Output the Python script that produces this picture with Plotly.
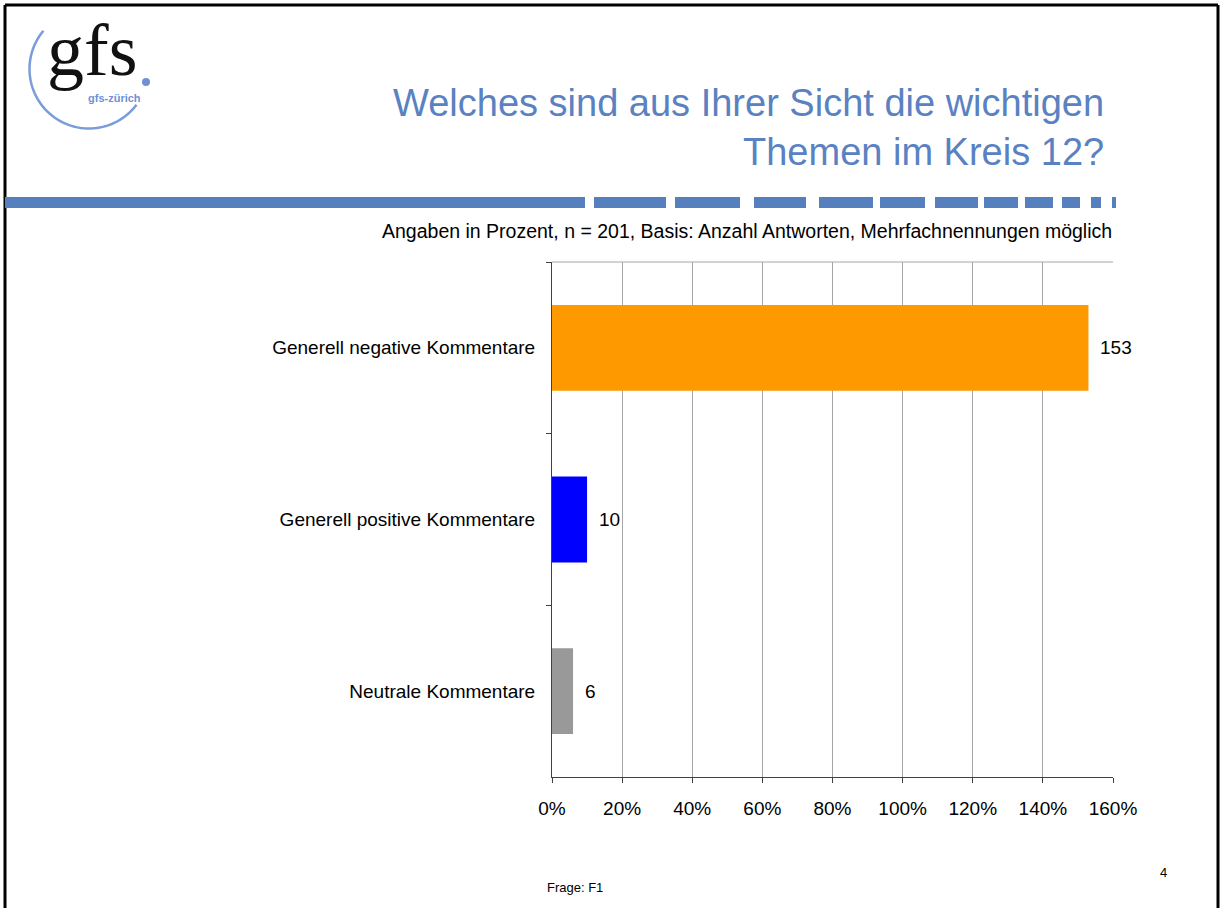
import math
import plotly.graph_objects as go

# data
categories = ["Generell negative Kommentare", "Generell positive Kommentare", "Neutrale Kommentare"]
values = [153, 10, 6]
bar_colors = ["#FF9900", "#0000FF", "#999999"]
x_ticks = [0, 20, 40, 60, 80, 100, 120, 140, 160]
x_tick_labels = ["0%", "20%", "40%", "60%", "80%", "100%", "120%", "140%", "160%"]

title_lines = ["Welches sind aus Ihrer Sicht die wichtigen", "Themen im Kreis 12?"]
subtitle = "Angaben in Prozent, n = 201, Basis: Anzahl Antworten, Mehrfachnennungen möglich"

W, H = 1222, 908
L, R, T, B = 552, 1113, 262, 777   # plot area in pixels

def px(x):
    return (x - L) / (R - L)

def py(y):
    return (B - y) / (B - T)

FONT = "Liberation Sans, Arial, sans-serif"
BLUE = "#5680BD"

fig = go.Figure(go.Bar(
    x=values, y=categories, orientation="h",
    marker=dict(color=bar_colors, line=dict(width=0)),
    hoverinfo="skip",
))

shapes = []
annotations = []

# value labels next to bars
for c, v in zip(categories, values):
    annotations.append(dict(x=v, y=c, xref="x", yref="y", text=str(v), showarrow=False,
                            xanchor="left", xshift=10, font=dict(size=19, color="#000000")))

# top border of plot area
shapes.append(dict(type="line", xref="paper", yref="paper", x0=0, x1=1, y0=1, y1=1,
                   line=dict(color="#A6A6A6", width=1)))

# page frame
for x0, y0, x1, y1 in [(5, 5, 5, 920), (5, 5, 1218, 5), (1218, 5, 1218, 920)]:
    shapes.append(dict(type="line", xref="paper", yref="paper", x0=px(x0), y0=py(y0),
                       x1=px(x1), y1=py(y1), line=dict(color="#000000", width=3)))

# dashed blue band below the title
for a, b in [(5, 585), (594, 666), (675, 740), (754, 806), (819, 873), (880, 925),
             (935, 978), (984, 1018), (1025, 1053), (1062, 1080), (1091, 1101), (1112, 1116)]:
    shapes.append(dict(type="rect", xref="paper", yref="paper", x0=px(a), x1=px(b),
                       y0=py(208), y1=py(197), fillcolor=BLUE, line=dict(width=0)))

# logo arc
cx, cy, r = 89, 69, 59.5
pts = []
for i in range(61):
    ang = math.radians(220 - (220 - 37) * i / 60)
    pts.append((px(cx + r * math.cos(ang)), py(cy + r * math.sin(ang))))
path = "M " + " L ".join(f"{x:.5f},{y:.5f}" for x, y in pts)
shapes.append(dict(type="path", xref="paper", yref="paper", path=path,
                   line=dict(color="#7A9CDA", width=2.5)))
# logo dot
shapes.append(dict(type="circle", xref="paper", yref="paper", x0=px(142), x1=px(150),
                   y0=py(86), y1=py(78), fillcolor="#6F90D6", line=dict(width=0)))

annotations += [
    dict(x=px(45), y=py(50), xref="paper", yref="paper", text="gfs", showarrow=False,
         xanchor="left", yanchor="middle",
         font=dict(family="Liberation Serif, Times New Roman, serif", size=74, color="#111111")),
    dict(x=px(114), y=py(98), xref="paper", yref="paper", text="<b>gfs-zürich</b>", showarrow=False,
         xanchor="center", yanchor="middle", font=dict(family=FONT, size=11, color="#6F90D6")),
    dict(x=px(1106), y=py(103), xref="paper", yref="paper", text=title_lines[0], showarrow=False,
         xanchor="right", yanchor="middle", font=dict(family=FONT, size=38, color="#5A82C2")),
    dict(x=px(1106), y=py(152), xref="paper", yref="paper", text=title_lines[1], showarrow=False,
         xanchor="right", yanchor="middle", font=dict(family=FONT, size=38, color="#5A82C2")),
    dict(x=px(1114), y=py(231), xref="paper", yref="paper", text=subtitle, showarrow=False,
         xanchor="right", yanchor="middle", font=dict(family=FONT, size=19.5, color="#000000")),
    dict(x=px(545), y=py(887), xref="paper", yref="paper", text="Frage: F1", showarrow=False,
         xanchor="left", yanchor="middle", font=dict(family=FONT, size=13, color="#000000")),
    dict(x=px(1163), y=py(872), xref="paper", yref="paper", text="4", showarrow=False,
         xanchor="center", yanchor="middle", font=dict(family=FONT, size=13, color="#000000")),
]

fig.update_layout(
    width=W, height=H,
    margin=dict(l=L, r=W - R, t=T, b=H - B, pad=0),
    paper_bgcolor="#FFFFFF", plot_bgcolor="#FFFFFF",
    font=dict(family=FONT, size=19, color="#000000"),
    bargap=0.5, showlegend=False,
    shapes=shapes, annotations=annotations,
    xaxis=dict(range=[0, 160], tickvals=x_ticks, ticktext=x_tick_labels,
               showgrid=True, gridcolor="#A6A6A6", gridwidth=1, zeroline=False,
               showline=True, linecolor="#404040", linewidth=1,
               ticks="outside", ticklen=5, tickcolor="#404040",
               ticklabelstandoff=9, fixedrange=True),
    yaxis=dict(categoryorder="array", categoryarray=categories, autorange="reversed",
               showgrid=False, zeroline=False, showline=True, linecolor="#404040", linewidth=1,
               ticks="outside", ticklen=5, tickcolor="#404040", tickson="boundaries",
               ticklabelstandoff=12, fixedrange=True),
)

fig.write_html("out.html", config={"displayModeBar": False},
               post_script="document.body.style.margin='0';document.body.style.overflow='hidden';")
